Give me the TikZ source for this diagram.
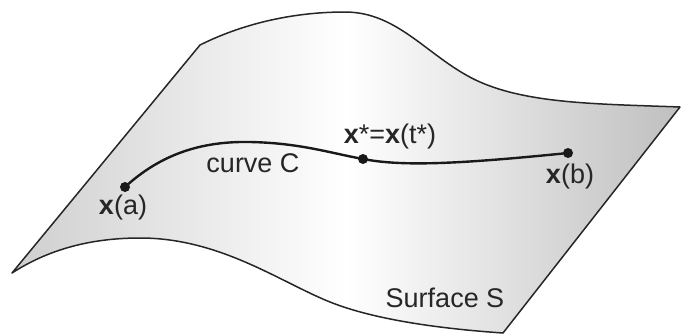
\documentclass[tikz,border=0pt]{standalone}
\usepackage{fontspec}
\setmainfont{Liberation Sans}
\begin{document}
\begin{tikzpicture}[x=1pt,y=-1pt,
  edge/.style={line width=1.5pt,black!85},
  curvec/.style={line width=2.4pt,black!90},
  dot/.style={circle,fill=black!90,inner sep=0pt,minimum size=10pt},
  lbl/.style={font=\fontsize{27}{32}\selectfont,text=black!85,inner sep=0pt}]
\useasboundingbox (0,0) rectangle (681,335);
% surface
\path[left color=gray!38,right color=gray!50,middle color=white]
  (12,273) -- (200,45) .. controls (240,25) and (290,12) .. (345,12)
  .. controls (400,12) and (430,60) .. (480,82)
  .. controls (530,104) and (600,104) .. (680,107)
  -- (503,333) .. controls (430,328) and (370,318) .. (330,302)
  .. controls (280,282) and (220,238) .. (140,238)
  .. controls (80,238) and (40,255) .. (12,273) -- cycle;
\draw[edge,line join=round]
  (12,273) -- (200,45) .. controls (240,25) and (290,12) .. (345,12)
  .. controls (400,12) and (430,60) .. (480,82)
  .. controls (530,104) and (600,104) .. (680,107)
  -- (503,333) .. controls (430,328) and (370,318) .. (330,302)
  .. controls (280,282) and (220,238) .. (140,238)
  .. controls (80,238) and (40,255) .. (12,273) -- cycle;
% curve C
\coordinate (a) at (125,187);
\coordinate (s) at (363,159);
\coordinate (b) at (568,153);
\draw[curvec] (a) .. controls (160,155) and (200,141) .. (250,142)
  .. controls (300,143) and (330,153) .. (s)
  .. controls (400,166) and (450,165) .. (b);
\node[dot] (da) at (a) {};
\node[dot] (ds) at (s) {};
\node[dot] (db) at (b) {};
% labels
\node[lbl] (la) at (123,208) {\textbf{x}(a)};
\node[lbl] (lc) at (253,163) {curve C};
\node[lbl] (ls) at (390,137) {\textbf{x}*=\textbf{x}(t*)};
\node[lbl] (lb) at (570,177) {\textbf{x}(b)};
\node[lbl] (lS) at (445,298) {Surface S};
\end{tikzpicture}
\end{document}
